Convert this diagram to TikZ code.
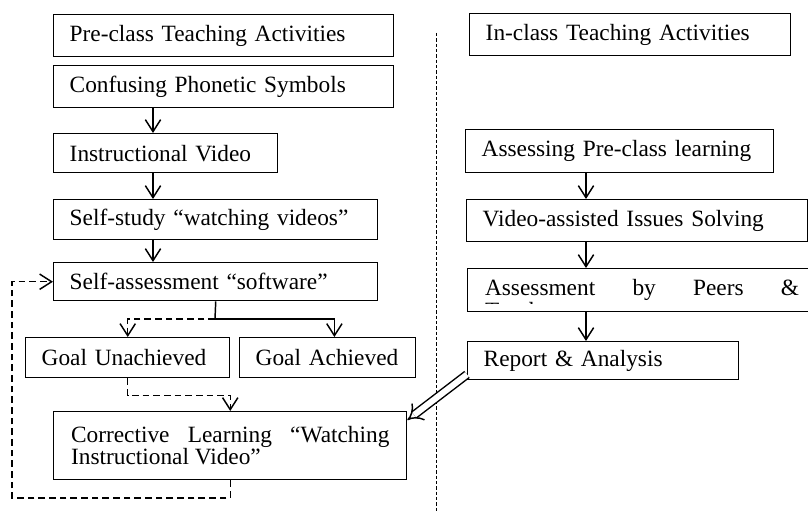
\documentclass[tikz,border=0pt]{standalone}
\usepackage{fontspec}
\setmainfont{Liberation Serif}
\usetikzlibrary{arrows.meta}

\tikzset{
  box/.style={rectangle, draw, line width=1.1pt, anchor=north west, inner xsep=12pt, inner ysep=0pt, align=left, font=\fontsize{17.5}{15}\selectfont},
  arr/.style={line width=1.1pt, -{Straight Barb[length=9pt,width=11.5pt]}},
  darr/.style={arr, dash pattern=on 5pt off 3pt},
  divider/.style={line width=0.6pt, dash pattern=on 2.5pt off 1.5pt},
  dbl/.style={double, double distance=4.5pt, line width=1.1pt, -{Implies}},
}

\begin{document}
\begin{tikzpicture}[x=0.75pt, y=-0.75pt]
  \useasboundingbox (0, 0) rectangle (808, 513);
  \clip (0, 0) rectangle (808, 513);
  % pre-class side
  \node (pre) [box, text width=231pt, minimum height=31.5pt] at (53, 14) {Pre-class Teaching Activities};
  \node (conf) [box, text width=231pt, minimum height=31.5pt] at (53, 65) {Confusing Phonetic Symbols};
  \node (instr) [box, text width=144pt, minimum height=29.25pt] at (53, 133) {Instructional Video};
  \node (study) [box, text width=219pt, minimum height=30pt] at (53, 199) {Self-study “watching videos”};
  \node (sa) [box, text width=219pt, minimum height=28.5pt] at (53, 262) {Self-assessment “software”};
  \node (unach) [box, text width=129pt, minimum height=30pt] at (25, 337) {Goal Unachieved};
  \node (ach) [box, text width=108pt, minimum height=30pt] at (239, 337) {Goal Achieved};
  \node (corr) [box, inner xsep=13pt, text width=238.75pt, minimum height=51pt, align=justify] at (53, 411) {Corrective Learning “Watching Instructional Video”};
  % in-class side
  \node (inclass) [box, text width=216.75pt, minimum height=31.5pt] at (469, 13) {In-class Teaching Activities};
  \node (assess) [box, text width=207pt, minimum height=32.25pt] at (465, 129) {Assessing Pre-class learning};
  \node (video) [box, text width=231.75pt, minimum height=31.5pt] at (466, 199) {Video-assisted Issues Solving};
  \node (peers) [box, minimum width=262pt, minimum height=32.25pt] at (467, 268) {};
  \begin{scope}
    \clip (peers.north west) rectangle ([yshift=7pt]peers.south east);
    \node (peerstext) [box, draw=none, inner xsep=13pt, text width=235.5pt, inner ysep=8.25pt, align=justify] at (peers.north west) {Assessment by Peers \&\linebreak Teachers};
  \end{scope}
  \node (report) [box, text width=179.25pt, minimum height=28.5pt] at (467, 341) {Report \& Analysis};

  \coordinate (lane) at (153, 0);
  \coordinate (rlane) at (586, 0);
  \coordinate (split) at (215, 319);
  \coordinate (loop) at (12, 498);
  \coordinate (divtop) at (436, 33);
  \coordinate (divbot) at (436, 513);

  % connectors
  \draw[divider] (divtop) -- (divbot);
  \draw[arr] (conf.south -| lane) -- (instr.north -| lane);
  \draw[arr] (instr.south -| lane) -- (study.north -| lane);
  \draw[arr] (study.south -| lane) -- (sa.north -| lane);
  \draw[line width=1.1pt] (sa.south) -- (split);
  \draw[arr] (split) -| ([xshift=5pt]ach.north);
  \draw[darr] (split) -| (unach.north);
  \draw[darr] (unach.south) -- ++(0, 17) -| (corr.north);
  \draw[darr] (corr.south) |- (loop) |- (sa.west);
  \draw[arr] (assess.south -| rlane) -- (video.north -| rlane);
  \draw[arr] (video.south -| rlane) -- (peers.north -| rlane);
  \draw[arr] (peers.south -| rlane) -- (report.north -| rlane);
  \draw[dbl] ([yshift=4.5pt]report.south west) -- ([yshift=-6.75pt]corr.north east);
\end{tikzpicture}
\end{document}
